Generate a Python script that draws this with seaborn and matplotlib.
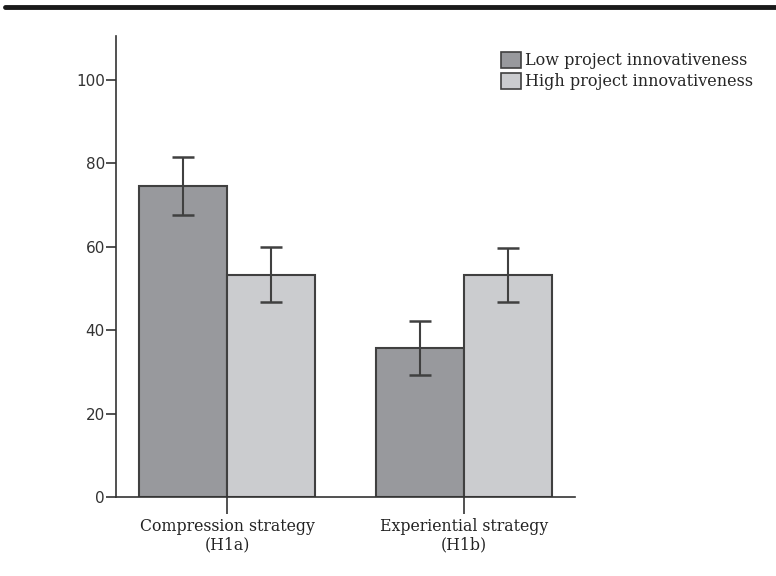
import matplotlib
matplotlib.use("Agg")
import matplotlib.pyplot as plt
import seaborn as sns
import pandas as pd
import numpy as np
from matplotlib.lines import Line2D
from matplotlib.patches import Patch

categories = ["Compression strategy\n(H1a)", "Experiential strategy\n(H1b)"]
groups = ["Low project innovativeness", "High project innovativeness"]
means_low = [74.6, 35.6]
means_high = [53.3, 53.3]
err_low_upper = [81.6, 42.1]
err_low_lower = [67.6, 29.2]
err_high_upper = [60.0, 59.8]
err_high_lower = [46.7, 46.8]
yticks = [0, 20, 40, 60, 80, 100]

rows = []
for i, c in enumerate(categories):
    rows.append({"cat": c, "grp": groups[0], "val": means_low[i],
                 "lo": err_low_lower[i], "hi": err_low_upper[i]})
    rows.append({"cat": c, "grp": groups[1], "val": means_high[i],
                 "lo": err_high_lower[i], "hi": err_high_upper[i]})
df = pd.DataFrame(rows)

sns.set_style("white")
fig = plt.figure(figsize=(7.76, 5.76), dpi=100)
ax = fig.add_axes([116/776, 1-497/576, (575-116)/776, (497-36)/576])

colors = {groups[0]: "#98999d", groups[1]: "#cbcccf"}
sns.barplot(data=df, x="cat", y="val", hue="grp", order=categories,
            hue_order=groups, palette=colors, errorbar=None, width=0.743,
            edgecolor="#404040", linewidth=1.5, ax=ax, legend=False, saturation=1)

# error bars
for bars, grp in zip(ax.containers, groups):
    sub = df[df.grp == grp].set_index("cat").loc[categories]
    xs = [b.get_x() + b.get_width()/2 for b in bars]
    vals = sub["val"].values
    lo = vals - sub["lo"].values
    hi = sub["hi"].values - vals
    ax.errorbar(xs, vals, yerr=[lo, hi], fmt="none", ecolor="#404040",
                elinewidth=1.5, capsize=8, capthick=1.8, zorder=5)

serif = "DejaVu Serif"
ax.set_xlim(-111/237, 1 + 111/237)
ax.set_ylim(0, 110.5)
ax.set_yticks(yticks)
ax.set_yticklabels([str(t) for t in yticks], fontsize=11, color="#333333",
                   family="DejaVu Sans")
ax.set_xticks([0, 1])
ax.set_xticklabels(categories, fontsize=11.3, family=serif, color="#222222",
                   linespacing=1.1)
ax.set_xlabel("")
ax.set_ylabel("")
for s in ["top", "right"]:
    ax.spines[s].set_visible(False)
for s in ["left", "bottom"]:
    ax.spines[s].set_color("#333333")
    ax.spines[s].set_linewidth(1.2)
ax.tick_params(axis="y", direction="out", length=7, width=1.2, color="#333333", pad=1, left=True)
ax.tick_params(axis="x", direction="out", length=12, width=1.2, color="#333333", pad=3, bottom=True)

handles = [Patch(facecolor=colors[g], edgecolor="#404040", linewidth=1.2) for g in groups]
fig.legend(handles, groups, loc="upper left", bbox_to_anchor=(501/776, 1-52/576),
           frameon=False, prop={"family": serif, "size": 11.5},
           handlelength=1.25, handleheight=1.13, handletextpad=0.25, labelspacing=0.25,
           borderpad=0, borderaxespad=0)

fig.add_artist(Line2D([5/776, 1.0], [1-7/576, 1-7/576], color="#1a1a1a", linewidth=3.5,
                      transform=fig.transFigure))

fig.savefig("out.png", dpi=100)
